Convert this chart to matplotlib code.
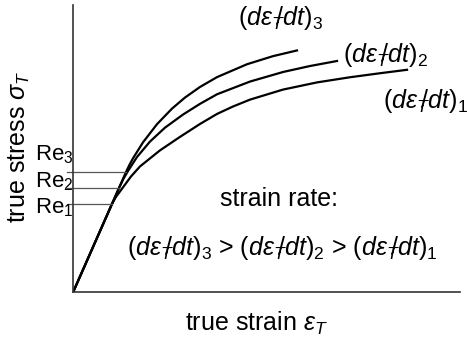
import matplotlib
matplotlib.use('Agg')
from matplotlib import pyplot as plt

plt.rcParams['font.family'] = ['Liberation Sans', 'DejaVu Sans']
plt.rcParams['mathtext.fontset'] = 'custom'
plt.rcParams['mathtext.rm'] = 'Liberation Sans'
plt.rcParams['mathtext.it'] = 'Liberation Sans:italic'
plt.rcParams['mathtext.sf'] = 'Liberation Sans'

# true strain / true stress curves for three strain rates (arbitrary units)
strain_3 = [0.0, 1.363, 1.45, 1.544, 1.802, 2.164, 2.552, 2.888, 3.276, 3.716, 4.492, 5.164, 5.785]
stress_3 = [0.0, 4.175, 4.419, 4.654, 5.209, 5.843, 6.386, 6.772, 7.141, 7.484, 7.934, 8.216, 8.415]

strain_2 = [0.0, 1.182, 1.30, 1.414, 1.647, 1.983, 2.371, 2.837, 3.276, 3.716, 4.570, 5.423, 6.121, 6.819]
stress_2 = [0.0, 3.617, 3.947, 4.210, 4.699, 5.237, 5.722, 6.179, 6.552, 6.886, 7.330, 7.663, 7.872, 8.047]

strain_1 = [0.0, 1.001, 1.10, 1.285, 1.492, 1.725, 2.242, 2.759, 3.276, 3.716, 4.13, 4.570, 5.423, 6.302, 7.156, 7.932, 8.630]
stress_1 = [0.0, 3.062, 3.300, 3.640, 4.020, 4.370, 4.930, 5.400, 5.850, 6.200, 6.460, 6.700, 7.050, 7.300, 7.480, 7.620, 7.740]

# yield points Re1..Re3 (end of the linear part)
re_strain = [1.001, 1.182, 1.363]
re_stress = [3.062, 3.617, 4.175]
re_labels = [r'Re$_1$', r'Re$_2$', r'Re$_3$']

rate_labels = [r'$(d\varepsilon_T\!\!/dt)_1$', r'$(d\varepsilon_T\!\!/dt)_2$', r'$(d\varepsilon_T\!\!/dt)_3$']

fs = 18

fig = plt.figure(figsize=(4.67, 3.45), dpi=100)
ax = fig.add_axes([0.157, 0.1545, 0.828, 0.831])

for x, y in [(strain_1, stress_1), (strain_2, stress_2), (strain_3, stress_3)]:
    ax.plot(x, y, color='black', linewidth=1.6, solid_joinstyle='round')

for xr, yr in zip(re_strain, re_stress):
    ax.plot([-0.16, xr], [yr, yr], color='#555555', linewidth=0.9, clip_on=False)

# Re labels left of the axis
re_label_y = [2.745, 3.652, 4.594]
for lab, yl in zip(re_labels, re_label_y):
    ax.text(-0.99, yl, lab, fontsize=16, va='baseline', ha='left', clip_on=False)

# strain rate labels at the curve ends
ax.text(8.006, 6.413, rate_labels[0], fontsize=fs, va='baseline', ha='left', clip_on=False)
ax.text(6.974, 8.022, rate_labels[1], fontsize=fs, va='baseline', ha='left', clip_on=False)
ax.text(4.257, 9.302, rate_labels[2], fontsize=fs, va='baseline', ha='left', clip_on=False)

ax.text(3.794, 2.989, 'strain rate:', fontsize=fs, va='baseline', ha='left')
ax.text(1.389, 1.280,
        rate_labels[2] + ' > ' + rate_labels[1] + ' > ' + rate_labels[0],
        fontsize=fs, va='baseline', ha='left')

ax.set_xlim(0, 10)
ax.set_ylim(0, 10)
ax.set_xticks([])
ax.set_yticks([])
ax.spines['top'].set_visible(False)
ax.spines['right'].set_visible(False)
for s in ['left', 'bottom']:
    ax.spines[s].set_color('#333333')
    ax.spines[s].set_linewidth(1.2)

fig.text(256 / 467, 1 - 331 / 345, r'true strain $\varepsilon_T$', fontsize=fs,
         ha='center', va='baseline')
fig.text(19 / 467, 1 - 147 / 345, r'true stress $\sigma_T$', fontsize=fs,
         ha='center', va='center', rotation=90)

fig.savefig('out.png', dpi=100)
plt.close(fig)
